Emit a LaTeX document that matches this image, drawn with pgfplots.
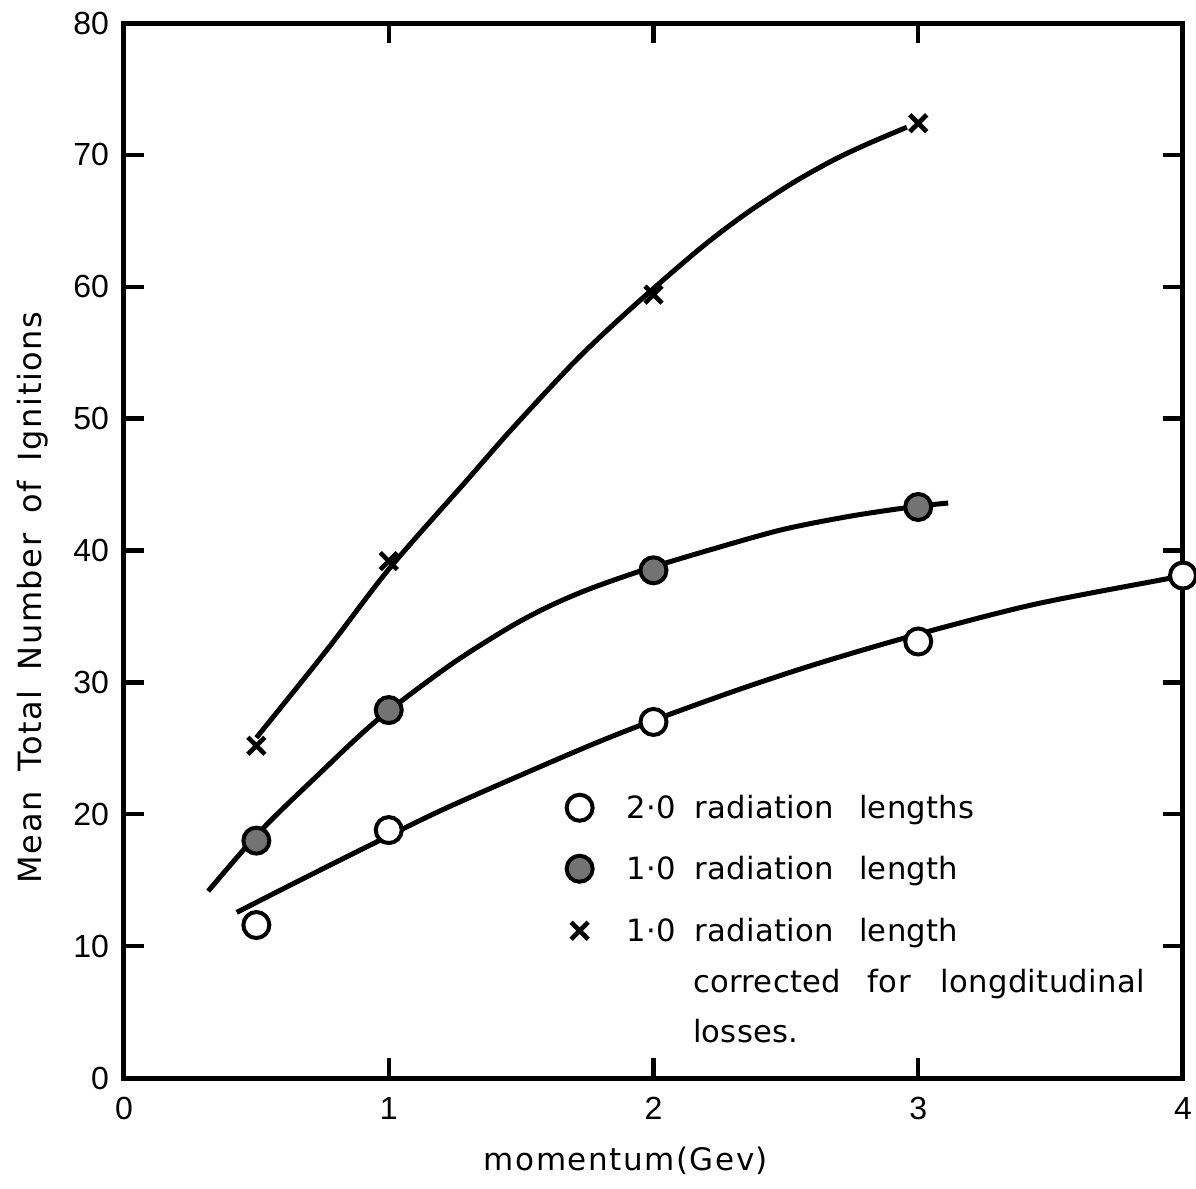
\documentclass[border=0pt]{standalone}
\usepackage{pgfplots}
\pgfplotsset{compat=1.18}
\usepackage{fontspec}
\setmainfont{DejaVu Sans}
\newfontfamily\labelfont[LetterSpace=5]{DejaVu Sans}
\newfontfamily\legfont[LetterSpace=1]{DejaVu Sans}
\newfontfamily\tickfont{Liberation Sans}

\begin{document}
\begin{tikzpicture}
\begin{axis}[
  at={(0pt,0pt)}, anchor=south west,
  scale only axis, width=317.7pt, height=316.5pt,
  xmin=0, xmax=4, ymin=0, ymax=80,
  xtick={0,1,2,3,4}, ytick={0,10,...,80},
  tick pos=both, tick align=inside,
  major tick length=6pt,
  tick style={line width=1.3pt, black},
  axis line style={line width=1.5pt},
  /pgf/number format/assume math mode=true,
  tick label style={font=\tickfont\fontsize{9.6}{11}\selectfont},
  xticklabel style={yshift=-2.2pt},
  yticklabel style={xshift=-1.0pt},
  xlabel={momentum(Gev)},
  ylabel={Mean\hspace{6pt}Total\hspace{6pt}Number\hspace{6pt}of\hspace{6pt}Ignitions},
  xlabel style={font=\labelfont\fontsize{9.3}{11}\selectfont, at={(axis description cs:0.474,-0.0787)}, anchor=center},
  ylabel style={font=\labelfont\fontsize{9.6}{11}\selectfont, at={(axis description cs:-0.0859,0.4555)}, anchor=center},
  clip=false,
  legend image code/.code={\draw[#1] plot coordinates {(0pt,3.2pt)};},
  legend style={at={(axis description cs:0.418,0.2745)}, anchor=north west,
    draw=none, fill=none, inner sep=0pt, outer sep=0pt,
    row sep=0pt, column sep=10.3pt,
    cells={anchor=base west},
    nodes={inner sep=0pt, font=\legfont\fontsize{9.2}{11}\selectfont}},
]
% fitted curves
\addplot[forget plot, black, line width=1.5pt, smooth] coordinates {
 (0.50,25.8) (0.766,32.45) (1.005,38.7) (1.294,45.3) (1.469,49.3) (1.711,54.5)
 (1.923,58.5) (2.176,62.9) (2.353,65.6) (2.528,67.9) (2.679,69.6) (2.805,70.8) (2.957,72.1)};
\addplot[forget plot, black, line width=1.5pt, smooth] coordinates {
 (0.318,14.17) (0.514,18.7) (0.734,23.0) (0.954,27.1) (1.231,31.3) (1.458,34.2)
 (1.609,35.8) (1.76,37.1) (1.974,38.6) (2.239,40.2) (2.49,41.6) (2.742,42.6) (2.975,43.3) (3.113,43.6)};
\addplot[forget plot, black, line width=1.5pt, smooth] coordinates {
 (0.426,12.56) (0.665,15.0) (0.954,17.9) (1.231,20.6) (1.722,24.9) (1.984,27.0)
 (2.314,29.4) (2.616,31.4) (2.99,33.6) (3.435,35.9) (3.938,37.85) (3.99,38.06)};
% data points
\addplot[black, only marks, mark=*, mark size=3.9pt, line width=1.2pt, mark options={fill=white}]
 coordinates {(0.5,11.6) (1,18.8) (2,27.0) (3,33.1) (4,38.1)};
\addlegendentry[text height=9pt, text depth=9.3pt]{2·0\hspace{5.5pt}radiation\hspace{7.5pt}lengths}
\addplot[black, only marks, mark=*, mark size=3.9pt, line width=1.2pt, mark options={fill=black!55}]
 coordinates {(0.5,18.0) (1,27.9) (2,38.5) (3,43.3)};
\addlegendentry[text height=9pt, text depth=9.6pt]{1·0\hspace{5.5pt}radiation\hspace{7.5pt}length}
\addplot[black, only marks, mark=x, mark size=3.6pt, line width=1.4pt]
 coordinates {(0.5,25.2) (1,39.2) (2,59.4) (3,72.4)};
\addlegendentry[text height=9pt, text depth=6.4pt]{1·0\hspace{5.5pt}radiation\hspace{7.5pt}length}
\addlegendimage{empty legend}
\addlegendentry[text height=9pt, text depth=6pt]{\phantom{1·0}\hspace{5pt}corrected\hspace{8pt}for\hspace{9pt}longditudinal}
\addlegendimage{empty legend}
\addlegendentry[text height=9pt, text depth=2pt]{\phantom{1·0}\hspace{5pt}losses.}
\end{axis}
\pgfresetboundingbox
\path[use as bounding box] (-37.2pt,-33pt) rectangle (321.6pt,323.4pt);
\end{tikzpicture}
\end{document}
